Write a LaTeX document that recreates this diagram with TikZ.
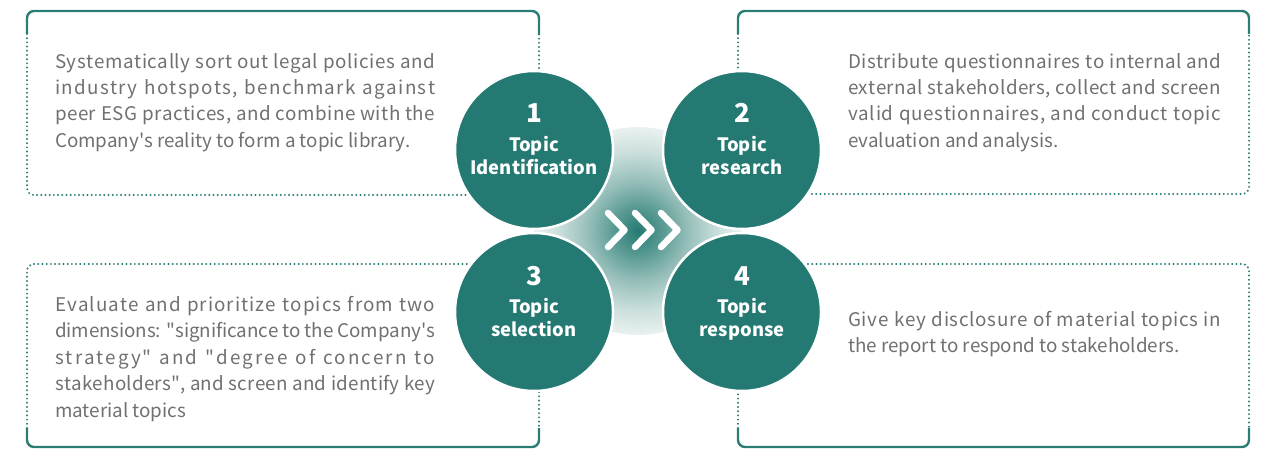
\documentclass[tikz,border=0pt]{standalone}
\usepackage{fontspec}
\newfontfamily\cjk{Noto Sans CJK SC}[Ligatures=TeXOff]
\definecolor{teal1}{RGB}{36,122,114}
\definecolor{line1}{RGB}{42,125,117}
\definecolor{txt}{RGB}{112,112,112}
\definecolor{glowa}{RGB}{36,122,114}
\definecolor{glowb}{RGB}{90,155,148}
\definecolor{glowc}{RGB}{150,190,185}
\definecolor{glowd}{RGB}{202,223,220}
\definecolor{glowe}{RGB}{234,241,240}
\pgfdeclareradialshading{glowshade}{\pgfpoint{0bp}{0bp}}{color(0bp)=(glowa); color(6bp)=(glowb); color(12bp)=(glowc); color(19bp)=(glowd); color(25bp)=(glowe); color(50bp)=(glowe)}
\ExplSyntaxOn
\cs_new_protected:Npn \jl #1 #2
  {
    \makebox[#1][s]{ \str_map_inline:nn {#2} { ##1 \hskip 0pt plus 1fil minus 1fil \relax } \unskip }
  }
\ExplSyntaxOff
\begin{document}
\begin{tikzpicture}[x=1pt,y=-1pt,
  solidedge/.style={draw=line1, line width=2.4pt, rounded corners=7pt},
  dotedge/.style={draw=line1, line width=2.2pt, dash pattern=on 0pt off 4.2pt, line cap=round, rounded corners=7pt},
  stepcircle/.style={circle, fill=teal1, draw=white, line width=2.5pt, minimum size=158pt, inner sep=0pt},
  numtext/.style={text=white, font=\cjk\bfseries\fontsize{26}{26}\selectfont, anchor=base, inner sep=0pt},
  captext/.style={text=white, font=\cjk\bfseries\fontsize{18.4}{22}\selectfont, anchor=base, inner sep=0pt},
  body/.style={text=txt, font=\cjk\fontsize{18.8}{26.4}\selectfont, anchor=north west, inner sep=0pt, align=left},
  chev/.style={draw=white, line width=6.5pt, line cap=round, line join=round}]
\useasboundingbox (0,0) rectangle (1265,449);
% central glow
\shade[shading=glowshade] (638,231) circle (104pt);
% box 1
\draw[solidedge] (27,34) -- (27,11) -- (539,11) -- (539,34);
\draw[dotedge] (27,34) -- (27,195) -- (539,195) -- (539,34);
% box 2
\draw[solidedge] (738,34) -- (738,11) -- (1249,11) -- (1249,34);
\draw[dotedge] (738,34) -- (738,194) -- (1249,194) -- (1249,34);
% box 3
\draw[dotedge] (27,428) -- (27,264) -- (539,264) -- (539,428);
\draw[solidedge] (27,428) -- (27,447) -- (539,447) -- (539,428);
% box 4
\draw[dotedge] (738,428) -- (738,264) -- (1249,264) -- (1249,428);
\draw[solidedge] (738,428) -- (738,447) -- (1249,447) -- (1249,428);
% circles
\node[stepcircle] (c1) at (534,150) {};
\node[stepcircle] (c2) at (742,150) {};
\node[stepcircle] (c3) at (534,312) {};
\node[stepcircle] (c4) at (742,312) {};
% chevrons
\draw[chev] (608,213) -- (624.5,230) -- (608,247);
\draw[chev] (635,213) -- (651.5,230) -- (635,247);
\draw[chev] (661,213) -- (677.5,230) -- (661,247);
% circle texts
\node[numtext] (n1) at (534,123) {1};
\node[captext] (a1) at (534,151.5) {Topic};
\node[captext] (b1) at (534,174.5) {Identification};
\node[numtext] (n2) at (742,123) {2};
\node[captext] (a2) at (742,151.5) {Topic};
\node[captext] (b2) at (742,174.5) {research};
\node[numtext] (n3) at (534,285) {3};
\node[captext] (a3) at (534,313.5) {Topic};
\node[captext] (b3) at (534,336.5) {selection};
\node[numtext] (n4) at (742,285) {4};
\node[captext] (a4) at (742,313.5) {Topic};
\node[captext] (b4) at (742,336.5) {response};
% box texts
\node[body] (t1) at (55,53) {\jl{380pt}{Systematically sort out legal policies and}\\
\jl{380pt}{industry hotspots, benchmark against}\\
\jl{380pt}{peer ESG practices, and combine with the}\\
Company's reality to form a topic library.};
\node[body] (t2) at (848,53) {\jl{373pt}{Distribute questionnaires to internal and}\\
\jl{373pt}{external stakeholders, collect and screen}\\
\jl{373pt}{valid questionnaires, and conduct topic}\\
evaluation and analysis.};
\node[body] (t3) at (55,296) {\jl{380pt}{Evaluate and prioritize topics from two}\\
\jl{380pt}{dimensions: "significance to the Company's}\\
\jl{380pt}{strategy" and "degree of concern to}\\
\jl{380pt}{stakeholders", and screen and identify key}\\
material topics};
\node[body] (t4) at (848,311) {\jl{373pt}{Give key disclosure of material topics in}\\
the report to respond to stakeholders.};
\end{tikzpicture}
\end{document}
